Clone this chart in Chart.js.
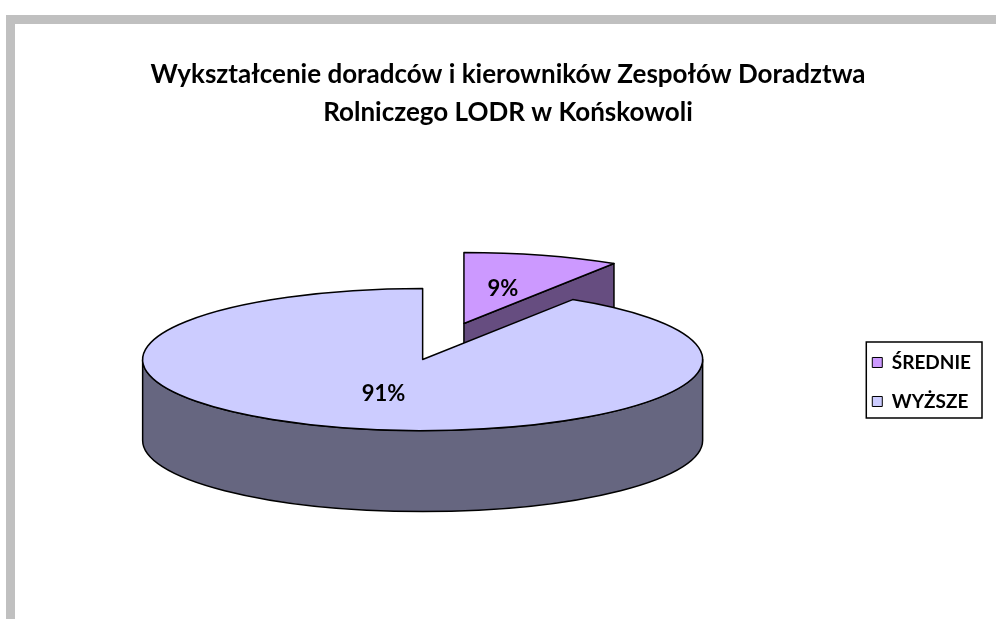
<!DOCTYPE html>
<html lang="pl">
<head>
<meta charset="utf-8">
<title>Wykształcenie doradców</title>
<script src="https://cdn.jsdelivr.net/npm/chart.js@4.4.1/dist/chart.umd.min.js"></script>
<style>
    html, body { margin: 0; padding: 0; background: #fff; }
    canvas { display: block; }
</style>
</head>
<body>
<canvas id="myChart" width="996" height="619"></canvas>
<script>
// ---- dane wykresu ----
const chartTitle = ['Wykształcenie doradców i kierowników Zespołów Doradztwa', 'Rolniczego LODR w Końskowoli'];
const categories = ['ŚREDNIE', 'WYŻSZE'];
const shares = [9, 91];          // udział w %
const explodeBy = [148, 0];      // wysunięcie wycinka (px, przed spłaszczeniem)

// ---- wygląd ----
const sliceColors = ['#CC99FF', '#CCCCFF'];
const FONT = 'Lato';
const TILT = 0.2536;     // ry / rx elipsy
const DEPTH = 81;        // grubość "tortu"
const PIE_RADIUS = 280;

function darker(hex) {
    const n = parseInt(hex.slice(1), 16);
    const r = (n >> 16) & 255, g = (n >> 8) & 255, b = n & 255;
    return 'rgb(' + Math.round(r / 2) + ',' + Math.round(g / 2) + ',' + Math.round(b / 2) + ')';
}

// pusty box miedzy wykresem a legenda
const legendGap = {
    id: 'legendGap',
    beforeInit(chart) {
        Chart.layouts.addBox(chart, {
            position: 'right', weight: 0, fullSize: false, options: {},
            isHorizontal() { return false; },
            update(maxWidth, maxHeight) { this.width = 42; this.height = maxHeight; },
            draw() {}
        });
    }
};

// tort 3D rysowany z geometrii wycinkow policzonej przez Chart.js
const pie3d = {
    id: 'pie3d',
    beforeDraw(chart) {
        const ctx = chart.ctx;
        ctx.save();
        ctx.fillStyle = '#C0C0C0';
        ctx.fillRect(6, 15, chart.width - 6, 9);
        ctx.fillRect(6, 24, 9, chart.height - 24);
        ctx.restore();
    },
    beforeDatasetsDraw(chart) {
        const ctx = chart.ctx;
        const meta = chart.getDatasetMeta(0);
        const total = shares.reduce((a, b) => a + b, 0);
        const slices = meta.data.map((arc, i) => {
            const p = arc.getProps(['x', 'y', 'startAngle', 'endAngle', 'outerRadius'], true);
            const mid = (p.startAngle + p.endAngle) / 2;
            const off = arc.options.offset || 0;
            return {
                i, a0: p.startAngle, a1: p.endAngle, r: p.outerRadius, mid,
                dx: Math.cos(mid) * off, dy: Math.sin(mid) * off * TILT,
                color: arc.options.backgroundColor
            };
        });

        // wysrodkowanie calej bryly w pionie
        let top = Infinity, bottom = -Infinity;
        slices.forEach(s => {
            for (let t = 0; t <= 90; t++) {
                const a = s.a0 + (s.a1 - s.a0) * t / 90;
                const y = s.dy + Math.sin(a) * s.r * TILT;
                top = Math.min(top, y, s.dy);
                bottom = Math.max(bottom, y + DEPTH);
            }
        });
        const cx = meta.data[0].x;
        const cy = meta.data[0].y - (top + bottom) / 2;

        ctx.save();
        ctx.lineWidth = 1.5;
        ctx.strokeStyle = '#000';
        ctx.lineJoin = 'round';

        const order = slices.slice().sort((a, b) => a.dy - b.dy);
        order.forEach(s => {
            const ox = cx + s.dx, oy = cy + s.dy;
            const rx = s.r, ry = s.r * TILT;
            const side = darker(s.color);

            // sciany boczne (przekroj)
            const walls = [];
            if (Math.cos(s.a0) < -1e-6) walls.push(s.a0);
            if (Math.cos(s.a1) > 1e-6) walls.push(s.a1);
            walls.forEach(a => {
                const px = ox + Math.cos(a) * rx, py = oy + Math.sin(a) * ry;
                ctx.beginPath();
                ctx.moveTo(ox, oy);
                ctx.lineTo(px, py);
                ctx.lineTo(px, py + DEPTH);
                ctx.lineTo(ox, oy + DEPTH);
                ctx.closePath();
                ctx.fillStyle = side;
                ctx.fill();
                ctx.stroke();
            });

            // obwod z przodu
            for (let k = -1; k <= 2; k++) {
                const lo = Math.max(s.a0, 2 * Math.PI * k);
                const hi = Math.min(s.a1, 2 * Math.PI * k + Math.PI);
                if (hi > lo) {
                    ctx.beginPath();
                    ctx.ellipse(ox, oy, rx, ry, 0, lo, hi);
                    ctx.ellipse(ox, oy + DEPTH, rx, ry, 0, hi, lo, true);
                    ctx.closePath();
                    ctx.fillStyle = side;
                    ctx.fill();
                    ctx.stroke();
                }
            }

            // wierzch
            ctx.beginPath();
            ctx.moveTo(ox, oy);
            ctx.ellipse(ox, oy, rx, ry, 0, s.a0, s.a1);
            ctx.closePath();
            ctx.fillStyle = s.color;
            ctx.fill();
            ctx.stroke();
        });

        // etykiety procentowe
        ctx.fillStyle = '#000';
        ctx.font = 'bold 22px ' + FONT;
        ctx.textAlign = 'center';
        ctx.textBaseline = 'middle';
        slices.forEach(s => {
            const ox = cx + s.dx, oy = cy + s.dy;
            const lx = ox + Math.cos(s.mid) * s.r * 0.5;
            const ly = oy + Math.sin(s.mid) * s.r * TILT * 0.5;
            ctx.fillText(Math.round(shares[s.i] / total * 100) + '%', lx, ly);
        });
        ctx.restore();
        return false;
    },
    afterDraw(chart) {
        // ramka legendy
        const lg = chart.legend;
        const ctx = chart.ctx;
        const pad = lg.options.labels.padding;
        const midY = (lg.top + lg.bottom) / 2;
        const left = lg.left + pad - 6;
        ctx.save();
        ctx.strokeStyle = '#000';
        ctx.lineWidth = 1.5;
        ctx.strokeRect(left, midY - 40, lg.right + 1 - left, 76);
        ctx.restore();
    }
};

const ctx = document.querySelector('#myChart').getContext('2d');
new Chart(ctx, {
    type: 'pie',
    data: {
        labels: categories,
        datasets: [{
            data: shares,
            backgroundColor: sliceColors,
            borderColor: '#000',
            borderWidth: 1,
            offset: explodeBy,
            radius: PIE_RADIUS
        }]
    },
    plugins: [legendGap, pie3d],
    options: {
        responsive: false,
        animation: false,
        events: [],
        layout: { padding: { left: 35, right: 15, top: 0, bottom: 0 } },
        plugins: {
            title: {
                display: true,
                text: chartTitle,
                color: '#000',
                font: { family: FONT, size: 26, weight: 'bold', lineHeight: 1.4615 },
                padding: { top: 56, bottom: 13 }
            },
            legend: {
                position: 'right',
                fullSize: false,
                labels: {
                    color: '#000',
                    font: { family: FONT, size: 19, weight: 'bold' },
                    boxWidth: 10,
                    boxHeight: 10,
                    padding: 20
                }
            },
            tooltip: { enabled: false }
        }
    }
});
</script>
</body>
</html>
